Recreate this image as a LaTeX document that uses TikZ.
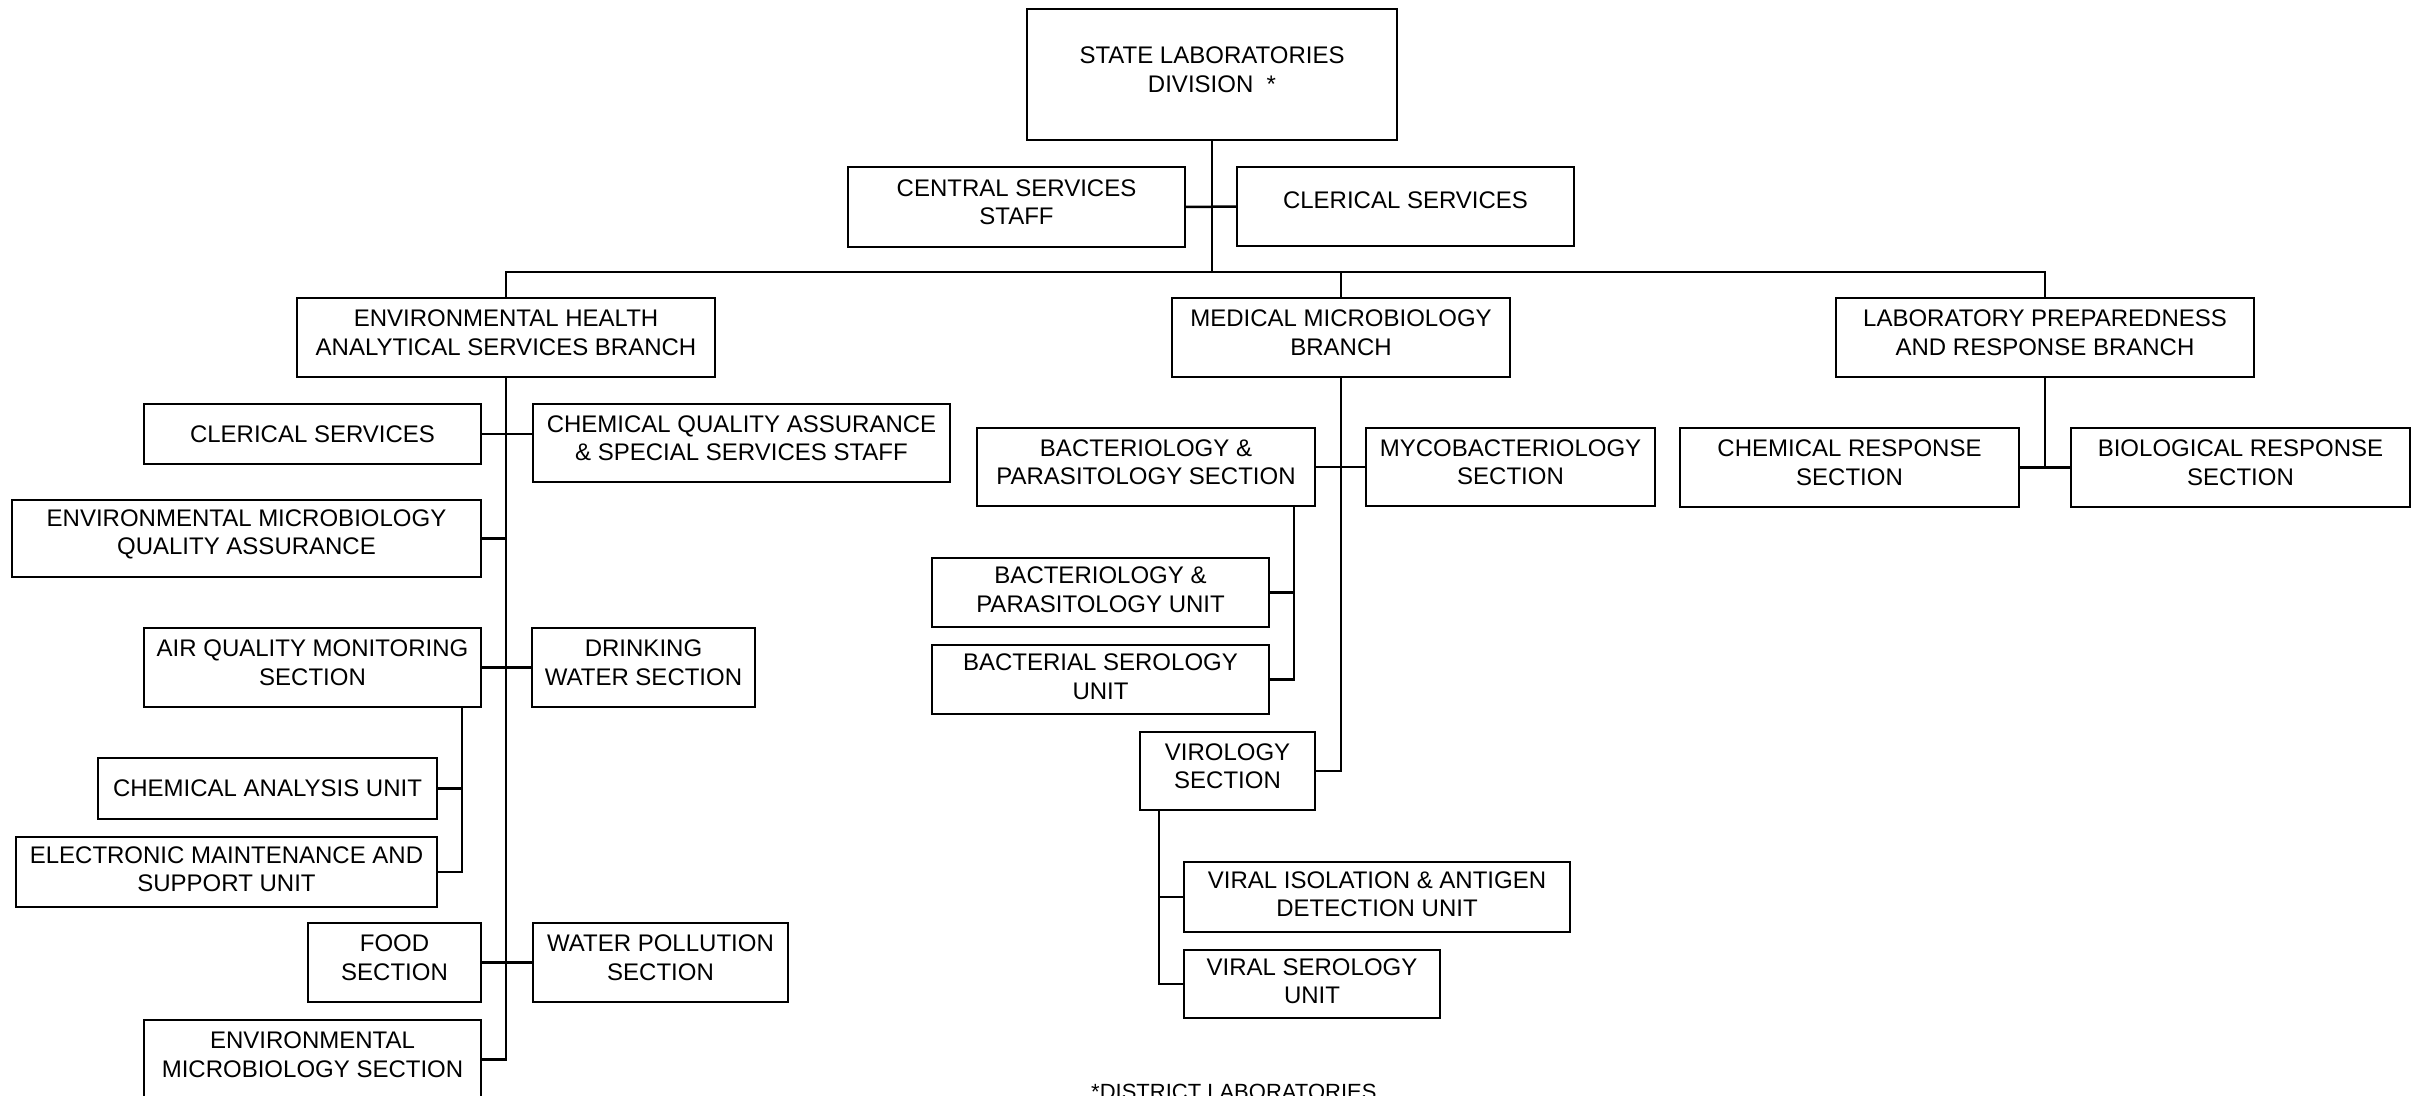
\documentclass[tikz,border=0pt]{standalone}
\usepackage{fontspec}
\setmainfont{Liberation Sans}
\tikzset{
  box/.style={draw=black, line width=2.5pt, inner sep=0pt, outer sep=0pt, fill=white},
  lbl/.style={align=center, inner sep=0pt, font=\fontsize{24}{28.5}\selectfont},
  conn/.style={draw=black, line width=2.5pt},
}
\newcommand\obox[7]{%
  \node[box, minimum width={#4-#2}, minimum height={#5-#3},
    label={[lbl, yshift=#7pt]center:{#6}}] (#1) at ({(#2+#4)/2},{(#3+#5)/2}) {};}
\begin{document}
\begin{tikzpicture}[x=1pt, y=-1pt]
\useasboundingbox[fill=white] (0,0) rectangle (2417,1095);
% top
\obox{state}{1027}{9}{1397}{140}{STATE LABORATORIES\\DIVISION~~*}{5}
\obox{central}{848}{167}{1185}{247}{CENTRAL SERVICES\\STAFF}{5}
\obox{clerT}{1237}{167}{1574}{246}{CLERICAL SERVICES}{6}
% branches
\obox{env}{297}{298}{715}{377}{ENVIRONMENTAL HEALTH\\ANALYTICAL SERVICES BRANCH}{5}
\obox{med}{1172}{298}{1510}{377}{MEDICAL MICROBIOLOGY\\BRANCH}{5}
\obox{lab}{1836}{298}{2254}{377}{LABORATORY PREPAREDNESS\\AND RESPONSE BRANCH}{5}
% lab prep children
\obox{chemresp}{1680}{428}{2019}{507}{CHEMICAL RESPONSE\\SECTION}{5}
\obox{bioresp}{2071}{428}{2410}{507}{BIOLOGICAL RESPONSE\\SECTION}{5}
% env health children
\obox{clerL}{144}{404}{481}{464}{CLERICAL SERVICES}{0}
\obox{cqa}{533}{404}{950}{482}{CHEMICAL QUALITY ASSURANCE\\\& SPECIAL SERVICES STAFF}{5}
\obox{emqa}{12}{500}{481}{577}{ENVIRONMENTAL MICROBIOLOGY\\QUALITY ASSURANCE}{4}
\obox{air}{144}{628}{481}{707}{AIR QUALITY MONITORING\\SECTION}{5}
\obox{drink}{532}{628}{755}{707}{DRINKING\\WATER SECTION}{5}
\obox{chemu}{98}{758}{437}{819}{CHEMICAL ANALYSIS UNIT}{0}
\obox{elec}{16}{837}{437}{907}{ELECTRONIC MAINTENANCE AND\\SUPPORT UNIT}{3}
\obox{food}{308}{923}{481}{1002}{FOOD\\SECTION}{5}
\obox{water}{533}{923}{788}{1002}{WATER POLLUTION\\SECTION}{5}
\obox{envmicro}{144}{1020}{481}{1099}{ENVIRONMENTAL\\MICROBIOLOGY SECTION}{5}
% medical microbiology children
\obox{bps}{977}{428}{1315}{506}{BACTERIOLOGY \&\\PARASITOLOGY SECTION}{5}
\obox{myco}{1366}{428}{1655}{506}{MYCOBACTERIOLOGY\\SECTION}{5}
\obox{bpu}{932}{558}{1269}{627}{BACTERIOLOGY \&\\PARASITOLOGY UNIT}{3}
\obox{bsu}{932}{645}{1269}{714}{BACTERIAL SEROLOGY\\UNIT}{3}
\obox{viro}{1140}{732}{1315}{810}{VIROLOGY\\SECTION}{5}
\obox{via}{1184}{862}{1570}{932}{VIRAL ISOLATION \& ANTIGEN\\DETECTION UNIT}{3}
\obox{vsu}{1184}{950}{1440}{1018}{VIRAL SEROLOGY\\UNIT}{3}
% footnote
\node[anchor=base west, inner sep=0pt, font=\fontsize{22}{26}\selectfont] (foot) at (1091,1099) {*DISTRICT LABORATORIES};
% connectors
\coordinate (busy) at (0,272);
\coordinate (bus) at (state.south |- busy);
\draw[conn] (state.south) -- (bus);
\draw[conn] (env.north) |- (bus) -| (lab.north);
\draw[conn] (med.north) -- (med.north |- bus);
\draw[conn] (central.east) -- (clerT.west);
\draw[conn] (lab.south) -- (lab.south |- chemresp.east);
\draw[conn] (chemresp.east) -- (bioresp.west);
% env trunk
\draw[conn] (env.south) -- (env.south |- envmicro.east) -- (envmicro.east);
\draw[conn] (clerL.east) -- (clerL.east -| cqa.west);
\draw[conn] (emqa.east) -- (emqa.east -| env.south);
\draw[conn] (air.east) -- (drink.west);
\draw[conn] (food.east) -- (water.west);
\coordinate (airtap) at (462,707);
\draw[conn] (airtap) |- (elec.east);
\draw[conn] (chemu.east) -- (chemu.east -| airtap);
% med trunk
\draw[conn] (med.south) |- (viro.east);
\draw[conn] (bps.east) -- (myco.west);
\coordinate (bpstap) at (1294,506);
\draw[conn] (bpstap) |- (bsu.east);
\draw[conn] (bpu.east) -- (bpu.east -| bpstap);
\coordinate (virtap) at (1159,810);
\draw[conn] (virtap) |- (vsu.west);
\draw[conn] (via.west) -- (via.west -| virtap);
\end{tikzpicture}
\end{document}
